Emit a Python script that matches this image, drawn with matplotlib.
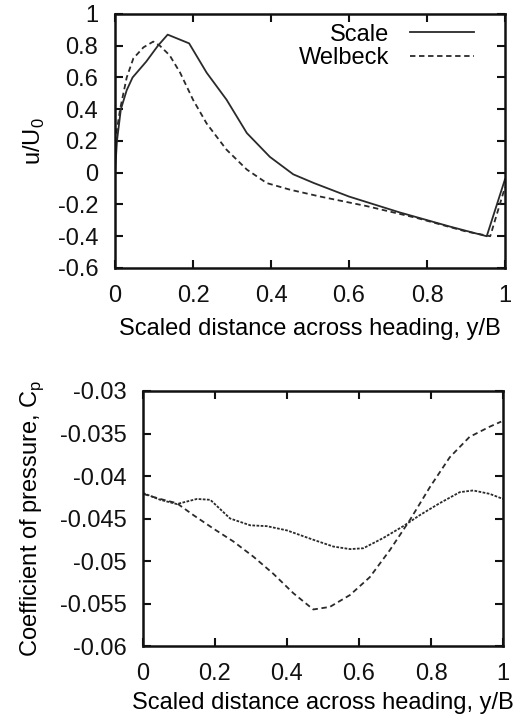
import numpy as np
import matplotlib
matplotlib.use("Agg")
import matplotlib.pyplot as plt

plt.rcParams['font.family'] = ['Liberation Sans', 'DejaVu Sans']

# top panel: velocity profile u/U0
scale_x = [0.0, 0.005, 0.015, 0.03, 0.045, 0.08, 0.11, 0.135, 0.19, 0.235, 0.286,
           0.338, 0.397, 0.457, 0.51, 0.60, 0.73, 0.86, 0.953, 1.0]
scale_u = [0.0, 0.2, 0.4, 0.52, 0.6, 0.7, 0.8, 0.87, 0.815, 0.63, 0.46,
           0.25, 0.10, -0.01, -0.065, -0.15, -0.25, -0.34, -0.40, -0.04]

welb_x = [0.0, 0.013, 0.03, 0.047, 0.073, 0.098, 0.115, 0.14, 0.167, 0.2, 0.235,
          0.286, 0.338, 0.389, 0.449, 0.526, 0.645, 0.774, 0.9, 0.962, 1.0]
welb_u = [0.19, 0.40, 0.6, 0.72, 0.79, 0.826, 0.80, 0.74, 0.63, 0.46, 0.31,
          0.145, 0.02, -0.065, -0.107, -0.15, -0.21, -0.285, -0.37, -0.40, -0.09]

# bottom panel: pressure coefficient
cp_a_x = [0.0, 0.048, 0.094, 0.122, 0.15, 0.187, 0.242, 0.298, 0.344, 0.40, 0.473,
          0.529, 0.575, 0.612, 0.667, 0.723, 0.769, 0.824, 0.88, 0.917, 0.963, 1.0]
cp_a = [-0.0420, -0.0428, -0.0433, -0.0430, -0.0427, -0.0428, -0.0450, -0.0458,
        -0.0459, -0.0464, -0.0475, -0.0483, -0.0486, -0.0485, -0.0473, -0.0459,
        -0.0446, -0.0432, -0.0419, -0.0417, -0.0421, -0.0427]

cp_b_x = [0.0, 0.048, 0.094, 0.14, 0.196, 0.251, 0.307, 0.362, 0.418, 0.473, 0.519,
          0.575, 0.63, 0.686, 0.741, 0.797, 0.852, 0.907, 0.963, 0.995]
cp_b = [-0.0421, -0.0427, -0.0432, -0.0446, -0.0462, -0.0477, -0.0495, -0.0515,
        -0.0538, -0.0557, -0.0554, -0.0540, -0.0519, -0.0487, -0.0452, -0.0413,
        -0.0378, -0.0354, -0.0342, -0.0336]

x_ticks = [0, 0.2, 0.4, 0.6, 0.8, 1]
x_ticklabels = ['0', '0.2', '0.4', '0.6', '0.8', '1']
u_ticks = [-0.6, -0.4, -0.2, 0, 0.2, 0.4, 0.6, 0.8, 1]
u_ticklabels = ['-0.6', '-0.4', '-0.2', '0', '0.2', '0.4', '0.6', '0.8', '1']
cp_ticks = [-0.06, -0.055, -0.05, -0.045, -0.04, -0.035, -0.03]
cp_ticklabels = ['-0.06', '-0.055', '-0.05', '-0.045', '-0.04', '-0.035', '-0.03']

LINE = '#2a2a2a'
FS = 17


def style_axes(ax):
    for s in ax.spines.values():
        s.set_linewidth(1.8)
        s.set_color('#111111')
    ax.tick_params(direction='in', length=6, width=1.5, top=True, right=True,
                   labelsize=FS, pad=12, colors='#111111')


fig = plt.figure(figsize=(5.19, 7.21), dpi=100)

ax1 = fig.add_axes([0.2216, 0.6283, 0.7515, 0.3523])
ax1.plot(scale_x, scale_u, color=LINE, lw=1.3, label='Scale')
ax1.plot(welb_x, welb_u, color=LINE, lw=1.3, ls=(0, (3, 2)), label='Welbeck')
ax1.set_xlim(0, 1)
ax1.set_ylim(-0.6, 1)
ax1.set_xticks(x_ticks)
ax1.set_xticklabels(x_ticklabels)
ax1.set_yticks(u_ticks)
ax1.set_yticklabels(u_ticklabels)
ax1.set_xlabel('Scaled distance across heading, y/B', fontsize=FS, labelpad=8)
ax1.set_ylabel('u/U$_\\mathregular{0}$', fontsize=FS, labelpad=8)
style_axes(ax1)
ax1.legend(loc='upper right', bbox_to_anchor=(0.935, 0.985), frameon=False,
           markerfirst=False, fontsize=FS, handlelength=2.7, borderaxespad=0.25,
           borderpad=0.0, labelspacing=0.05, handletextpad=0.9)

ax2 = fig.add_axes([0.2755, 0.104, 0.6937, 0.3537])
ax2.plot(cp_a_x, cp_a, color=LINE, lw=1.3, ls=(0, (1.5, 0.8)))
ax2.plot(cp_b_x, cp_b, color=LINE, lw=1.3, ls=(0, (3, 2)))
ax2.set_xlim(0, 1)
ax2.set_ylim(-0.06, -0.03)
ax2.set_xticks(x_ticks)
ax2.set_xticklabels(x_ticklabels)
ax2.set_yticks(cp_ticks)
ax2.set_yticklabels(cp_ticklabels)
ax2.set_xlabel('Scaled distance across heading, y/B', fontsize=FS, labelpad=5)
ax2.set_ylabel('Coefficient of pressure, C$_\\mathregular{p}$', fontsize=FS, labelpad=10)
style_axes(ax2)

fig.savefig('out.png', dpi=100)
